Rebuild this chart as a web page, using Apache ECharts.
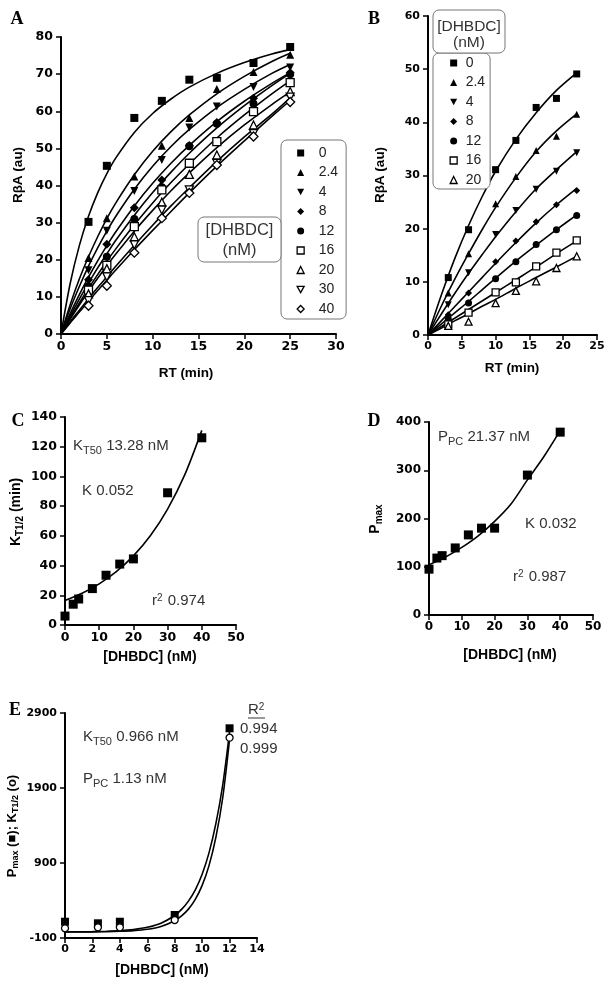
<!DOCTYPE html>
<html><head><meta charset="utf-8">
<script src="https://cdn.jsdelivr.net/npm/echarts@6/dist/echarts.min.js"></script>
<style>html,body{margin:0;padding:0;background:#fff}#c{width:613px;height:990px}</style>
</head><body><div id="c"></div>
<script>
// ---------- Panel A : RbetaA vs RT, 9 DHBDC concentrations ----------
const concA = ['0','2.4','4','8','12','16','20','30','40'];
const timeA = [3, 5, 8, 11, 14, 17, 21, 25];
const ptsA_0   = [30.2, 45.3, 58.2, 62.8, 68.5, 69.0, 73.0, 77.3];
const ptsA_2_4 = [20.5, 31.2, 42.4, 50.7, 58.2, 66.0, 70.6, 75.2];
const ptsA_4   = [17.2, 27.8, 38.5, 46.9, 55.6, 61.3, 66.5, 71.8];
const ptsA_8   = [14.6, 24.2, 34.0, 41.5, 50.8, 57.0, 63.5, 70.4];
const ptsA_12  = [12.8, 20.8, 31.0, 39.5, 50.6, 56.6, 62.0, 70.0];
const ptsA_16  = [11.8, 18.5, 28.9, 38.8, 46.0, 51.8, 59.9, 67.7];
const ptsA_20  = [10.8, 17.6, 26.2, 35.5, 43.0, 48.2, 56.3, 65.3];
const ptsA_30  = [9.0, 15.4, 24.0, 33.4, 38.8, 46.0, 54.0, 63.8];
const ptsA_40  = [7.6, 13.0, 21.9, 31.2, 38.0, 45.5, 53.2, 62.5];
const fitTimeA = [0, 1, 2, 3, 4, 5, 6, 8, 10, 12, 14, 17, 20, 23, 25];
const fitA_0   = [0, 13.6, 23.8, 31.7, 38.0, 43.2, 47.5, 54.3, 59.4, 63.3, 66.5, 70.2, 73.1, 75.4, 76.6];
const fitA_2_4 = [0, 7.9, 14.8, 20.8, 26.2, 31.1, 35.4, 42.9, 49.2, 54.5, 59.0, 64.7, 69.4, 73.4, 75.6];
const fitA_4   = [0, 6.8, 12.8, 18.3, 23.2, 27.7, 31.8, 39.0, 45.2, 50.5, 55.1, 61.0, 65.9, 70.2, 72.6];
const fitA_8   = [0, 5.5, 10.6, 15.3, 19.7, 23.8, 27.6, 34.5, 40.6, 46.0, 50.8, 57.2, 62.7, 67.5, 70.4];
const fitA_12  = [0, 4.8, 9.4, 13.7, 17.8, 21.6, 25.3, 32.0, 38.1, 43.6, 48.7, 55.5, 61.5, 66.9, 70.2];
const fitA_16  = [0, 4.3, 8.4, 12.3, 16.0, 19.6, 23.0, 29.4, 35.3, 40.8, 45.8, 52.8, 59.0, 64.7, 68.2];
const fitA_20  = [0, 4.0, 7.8, 11.5, 15.0, 18.4, 21.6, 27.7, 33.3, 38.6, 43.4, 50.2, 56.3, 61.8, 65.2];
const fitA_30  = [0, 3.3, 6.4, 9.5, 12.5, 15.4, 18.3, 23.9, 29.3, 34.5, 39.4, 46.5, 53.1, 59.2, 63.6];
const fitA_40  = [0, 3.0, 5.9, 8.8, 11.7, 14.5, 17.3, 22.7, 27.9, 33.0, 38.0, 45.2, 52.0, 58.6, 62.9];
const ticksAX = [0, 5, 10, 15, 20, 25, 30];
const ticksAY = [0, 10, 20, 30, 40, 50, 60, 70, 80];

// ---------- Panel B ----------
const concB = ['0','2.4','4','8','12','16','20'];
const timeB = [3, 6, 10, 13, 16, 19, 22];
const ptsB_0   = [10.8, 19.8, 31.1, 36.6, 42.8, 44.5, 49.1];
const ptsB_2_4 = [7.9, 15.3, 24.7, 29.8, 34.7, 37.4, 41.5];
const ptsB_4   = [5.7, 11.7, 18.9, 23.4, 27.4, 30.8, 34.3];
const ptsB_8   = [3.8, 7.9, 13.8, 17.7, 21.3, 24.5, 27.2];
const ptsB_12  = [3.0, 6.0, 10.6, 13.8, 17.0, 19.8, 22.5];
const ptsB_16  = [2.0, 4.2, 8.0, 9.9, 12.9, 15.5, 17.8];
const ptsB_20  = [1.7, 2.5, 6.0, 8.3, 10.1, 12.6, 14.8];
const fitTimeB = [0, 2, 4, 6, 8, 10, 13, 16, 19, 22];
const fitB_0   = [0, 7.6, 14.5, 20.6, 26.0, 30.8, 36.8, 41.8, 46.0, 49.3];
const fitB_2_4 = [0, 5.5, 10.6, 15.3, 19.8, 24.0, 29.6, 34.5, 38.4, 41.6];
const fitB_4   = [0, 4.0, 7.9, 11.6, 15.1, 18.5, 23.2, 27.5, 31.1, 34.5];
const fitB_8   = [0, 2.7, 5.4, 8.1, 10.8, 13.5, 17.4, 21.1, 24.5, 27.6];
const fitB_12  = [0, 2.1, 4.2, 6.3, 8.5, 10.7, 13.9, 16.9, 19.8, 22.6];
const fitB_16  = [0, 1.6, 3.2, 4.8, 6.4, 8.0, 10.4, 12.8, 15.3, 17.7];
const fitB_20  = [0, 1.3, 2.7, 4.0, 5.4, 6.7, 8.8, 10.8, 12.8, 14.8];
const ticksBX = [0, 5, 10, 15, 20, 25];
const ticksBY = [0, 10, 20, 30, 40, 50, 60];

// ---------- Panels C and D ----------
const concCD = [0, 2.4, 4, 8, 12, 16, 20, 30, 40];
const kHalf  = [6, 14, 17.5, 24.5, 33.5, 41, 44.5, 89, 126];
const pMax   = [95, 118, 123, 139, 166, 180, 180, 290, 379];
const fitConcCD = [0, 5, 10, 15, 20, 25, 30, 35, 40];
const fitKHalf  = [16.5, 21.4, 27.7, 35.9, 46.5, 60.2, 78.0, 101, 131];
const fitPMax   = [104, 120, 140, 164, 194, 230, 280, 328, 382];
const ticksCX = [0, 10, 20, 30, 40, 50];
const ticksCY = [0, 20, 40, 60, 80, 100, 120, 140];
const ticksDX = [0, 10, 20, 30, 40, 50];
const ticksDY = [0, 100, 200, 300, 400];

// ---------- Panel E ----------
const concE  = [0, 2.4, 4, 8, 12];
const ePmax  = [117, 96, 117, 207, 2696];
const eKHalf = [29, 43, 43, 140, 2571];
const fitConcE  = [0, 1, 2, 3, 4, 5, 6, 7, 8, 8.5, 9, 9.5, 10, 10.5, 11, 11.5, 12];
const fitEPmax  = [-18, -17, -15, -10, -2, 14, 43, 98, 200, 281, 392, 543, 751, 1035, 1424, 1940, 2650];
const fitEKHalf = [-19, -19, -18, -16, -11, -2, 16, 54, 130, 194, 285, 415, 601, 865, 1242, 1770, 2550];
const ticksEX = [0, 2, 4, 6, 8, 10, 12, 14];
const ticksEY = [-100, 900, 1900, 2900];

// ---------- styling ----------
const SANS = '"Liberation Sans", Arial, Helvetica, sans-serif';
const DJ = '"DejaVu Sans", sans-serif';
const SERIF = '"Liberation Serif", "Times New Roman", serif';
const DOWN = 'path://M0,0L10,0L5,9Z';
const SYMS = [
  {symbol:'rect', fill:'#000'}, {symbol:'triangle', fill:'#000'}, {symbol:DOWN, fill:'#000'},
  {symbol:'diamond', fill:'#000'}, {symbol:'circle', fill:'#000'}, {symbol:'rect', fill:'#fff'},
  {symbol:'triangle', fill:'#fff'}, {symbol:DOWN, fill:'#fff'}, {symbol:'diamond', fill:'#fff'}
];
function symStyle(s){ return {color:s.fill, borderColor:'#000', borderWidth: s.fill==='#fff'?1.3:0, opacity:1}; }

const ptsA = [ptsA_0, ptsA_2_4, ptsA_4, ptsA_8, ptsA_12, ptsA_16, ptsA_20, ptsA_30, ptsA_40];
const fitA = [fitA_0, fitA_2_4, fitA_4, fitA_8, fitA_12, fitA_16, fitA_20, fitA_30, fitA_40];
const ptsB = [ptsB_0, ptsB_2_4, ptsB_4, ptsB_8, ptsB_12, ptsB_16, ptsB_20];
const fitB = [fitB_0, fitB_2_4, fitB_4, fitB_8, fitB_12, fitB_16, fitB_20];

function zip(xs, ys){ return xs.map((x,i)=>[x, ys[i]]); }
function axis(g, ticks, fs, isX){
  return {
    type:'value', gridIndex:g, min:ticks[0], max:ticks[ticks.length-1], interval:ticks[1]-ticks[0],
    splitLine:{show:false},
    axisLine:{show:true, onZero:false, lineStyle:{color:'#000', width:2}},
    axisTick:{show:true, length:5, lineStyle:{color:'#000', width:1.5}},
    axisLabel:{color:'#000', fontFamily:DJ, fontWeight:'bold', fontSize:fs, margin: isX?6:8,
      formatter:function(v){ return String(v); }}
  };
}
function fitLine(g, xs, ys){
  return {type:'line', xAxisIndex:g, yAxisIndex:g, data:zip(xs, ys), symbol:'none', showSymbol:false,
    smooth:0.3, lineStyle:{color:'#000', width:1.6}, itemStyle:{color:'#000'}, z:2, silent:true, animation:false};
}
function scat(name, g, xs, ys, s, size){
  return {type:'scatter', name:name, xAxisIndex:g, yAxisIndex:g, data:zip(xs, ys), symbol:s.symbol,
    symbolSize:size, itemStyle:symStyle(s), z:3, silent:true, animation:false};
}

const series = [];
fitA.forEach(f=>series.push(fitLine(0, fitTimeA, f)));
ptsA.forEach((p,i)=>series.push(scat('A|'+concA[i], 0, timeA, p, SYMS[i], SYMS[i].symbol==='diamond'?9:8)));
fitB.forEach(f=>series.push(fitLine(1, fitTimeB, f)));
ptsB.forEach((p,i)=>series.push(scat('B|'+concB[i], 1, timeB, p, SYMS[i], 7)));
series.push(fitLine(2, fitConcCD, fitKHalf));
series.push(scat('C', 2, concCD, kHalf, SYMS[0], 9));
series.push(fitLine(3, fitConcCD, fitPMax));
series.push(scat('D', 3, concCD, pMax, SYMS[0], 9));
series.push(fitLine(4, fitConcE, fitEPmax));
series.push(fitLine(4, fitConcE, fitEKHalf));
series.push(scat('E1', 4, concE, ePmax, SYMS[0], 8));
series.push(scat('E2', 4, concE, eKHalf, {symbol:'circle', fill:'#fff'}, 7));

function legendCfg(prefix, concs, left, top, padding, txtPad){
  return {
    orient:'vertical', left:left, top:top, padding:padding,
    itemWidth:7, itemHeight:7, itemGap:3.5, selectedMode:false,
    backgroundColor:'#fff', borderColor:'#777', borderWidth:1, borderRadius:6,
    textStyle:{fontFamily:SANS, fontSize:14, color:'#222', lineHeight:16, padding:[0,0,0,txtPad]},
    formatter:function(n){ return n.split('|')[1]; },
    data: concs.map((c,i)=>({name:prefix+'|'+c, icon:SYMS[i].symbol, itemStyle:symStyle(SYMS[i])}))
  };
}

// ---------- text helpers ----------
function T(x, y, text, font, opts){
  return Object.assign({type:'text', x:x, y:y, z:10, silent:true,
    style:{text:text, font:font, fill:'#000', align:'center', verticalAlign:'middle', textAlign:'center', textVerticalAlign:'middle'}}, opts||{});
}
function annRich(col, fs){
  return {
    m:{fontFamily:SANS, fontSize:fs, fill:col, lineHeight:18, verticalAlign:'top'},
    s:{fontFamily:SANS, fontSize:Math.round(fs*0.7), fill:col, lineHeight:18, verticalAlign:'top', padding:[7,0,0,0]},
    p:{fontFamily:SANS, fontSize:Math.round(fs*0.68), fill:col, lineHeight:18, verticalAlign:'top', padding:[0,1,0,0]}
  };
}
function R(x, y, text, fs){
  return {type:'text', x:x, y:y, z:10, silent:true,
    style:{text:text, rich:annRich('#333', fs||15), align:'left', verticalAlign:'middle', textAlign:'left', textVerticalAlign:'middle'}};
}
function boldRich(fs){
  return {
    b:{fontFamily:SANS, fontWeight:'bold', fontSize:fs, fill:'#000', lineHeight:17, verticalAlign:'top'},
    s:{fontFamily:SANS, fontWeight:'bold', fontSize:Math.round(fs*0.7), fill:'#000', lineHeight:17, verticalAlign:'top', padding:[6,0,0,0]}
  };
}
function YR(x, y, text, fs){
  return {type:'text', x:x, y:y, rotation:Math.PI/2, z:10, silent:true,
    style:{text:text, rich:boldRich(fs), align:'center', verticalAlign:'middle', textAlign:'center', textVerticalAlign:'middle'}};
}
function boxText(x, y, text, font){
  return {type:'text', x:x, y:y, z:10, silent:true,
    style:{text:text, font:font, fill:'#333', align:'center', verticalAlign:'middle', textAlign:'center', textVerticalAlign:'middle'}};
}
const LET = 'bold 18px ' + SERIF;
const TIT = 'bold 13.5px ' + SANS;
const BOX = '16.5px ' + SANS;
const BOXB = '15.5px ' + SANS;

const graphics = [
  T(17, 19, 'A', LET), T(374, 19, 'B', LET), T(18, 421, 'C', LET), T(374, 421, 'D', LET), T(15, 710, 'E', LET),
  T(18, 175, 'R\u03b2A (au)', TIT, {rotation:Math.PI/2}),
  T(186, 373, 'RT (min)', TIT),
  T(380, 175, 'R\u03b2A (au)', TIT, {rotation:Math.PI/2}),
  T(512, 368, 'RT (min)', TIT),
  YR(18, 512, '{b|K}{s|T1/2}{b| (min)}', 14),
  T(150, 657, '[DHBDC] (nM)', 'bold 14px ' + SANS),
  YR(377, 519, '{b|P}{s|max}', 14),
  T(510, 655, '[DHBDC] (nM)', 'bold 14px ' + SANS),
  YR(14, 826, '{b|P}{s|max}{b| (\u25a0); K}{s|T1/2}{b| (o)}', 13),
  T(162, 970, '[DHBDC] (nM)', 'bold 14px ' + SANS),
  R(73, 447, '{m|K}{s|T50}{m| 13.28 nM}'),
  R(82, 492, '{m|K 0.052}'),
  R(152, 602, '{m|r}{p|2}{m| 0.974}'),
  R(438, 438, '{m|P}{s|PC}{m| 21.37 nM}'),
  R(525, 525, '{m|K 0.032}'),
  R(513, 578, '{m|r}{p|2}{m| 0.987}'),
  R(83, 738, '{m|K}{s|T50}{m| 0.966 nM}'),
  R(83, 780, '{m|P}{s|PC}{m| 1.13 nM}'),
  R(248, 711, '{m|R}{p|2}'),
  {type:'line', z:10, silent:true, shape:{x1:248, y1:718, x2:265, y2:718}, style:{stroke:'#333', lineWidth:1}},
  R(240, 730, '{m|0.994}'),
  R(240, 750, '{m|0.999}'),
  {type:'rect', z:5, silent:true, shape:{x:198, y:217, width:83, height:45, r:6}, style:{fill:'#fff', stroke:'#777', lineWidth:1}},
  boxText(239.5, 230, '[DHBDC]', BOX),
  boxText(239.5, 250, '(nM)', BOX),
  {type:'rect', z:5, silent:true, shape:{x:433, y:10, width:72, height:43, r:6}, style:{fill:'#fff', stroke:'#777', lineWidth:1}},
  boxText(469, 27, '[DHBDC]', BOXB),
  boxText(469, 43, '(nM)', BOXB)
];

const grids = [
  {left:61, top:37, width:275, height:297},
  {left:428, top:16, width:169, height:319},
  {left:65, top:417, width:171, height:208},
  {left:429, top:422, width:164, height:193},
  {left:65, top:713, width:192, height:225}
].map(g=>Object.assign({outerBoundsMode:'none', containLabel:false, show:false}, g));

const chart = echarts.init(document.getElementById('c'), null, {renderer:'canvas'});
chart.setOption({
  animation:false,
  backgroundColor:'#fff',
  grid:grids,
  xAxis:[axis(0, ticksAX, 12.5, true), axis(1, ticksBX, 11, true), axis(2, ticksCX, 12.5, true), axis(3, ticksDX, 12, true), axis(4, ticksEX, 11, true)],
  yAxis:[axis(0, ticksAY, 12.5, false), axis(1, ticksBY, 11, false), axis(2, ticksCY, 12.5, false), axis(3, ticksDY, 12, false), axis(4, ticksEY, 11, false)],
  legend:[
    legendCfg('A', concA, 281, 140, [5, 8, 2, 15.5], 9.5),
    legendCfg('B', concB, 433, 53, [2, 5, 1, 16.5], 3.5)
  ],
  series:series,
  graphic:{elements:graphics}
});
</script></body></html>
